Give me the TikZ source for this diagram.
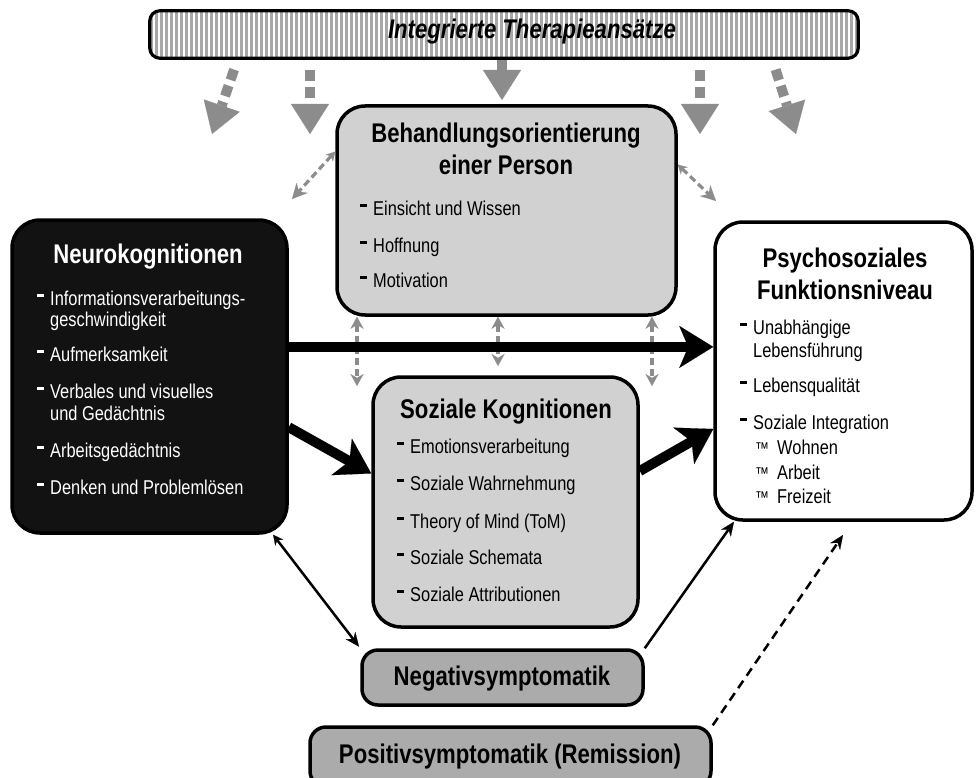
\documentclass[tikz,border=0pt]{standalone}
\usepackage{fontspec}
\setmainfont{Liberation Sans}[FakeStretch=0.82]
\usetikzlibrary{arrows.meta, positioning}
\definecolor{lightbox}{gray}{0.82}
\definecolor{symbox}{gray}{0.67}
\definecolor{nkblack}{gray}{0.07}
\definecolor{arrowgray}{gray}{0.55}
\definecolor{stripe}{gray}{0.66}
\newcommand{\itemdash}{\makebox[13pt][l]{\raisebox{8.5pt}{\rule{6.5pt}{2.4pt}}}}
\newcommand{\tmsign}{\makebox[22pt][l]{\fontsize{17}{17}\selectfont ™}}
\tikzset{x=1pt, y=-1pt,
  box/.style={draw, line width=3.5pt, rounded corners=28pt, fill=lightbox, inner sep=0pt},
  darkbox/.style={box, fill=nkblack},
  whitebox/.style={box, fill=white},
  sympbox/.style={box, fill=symbox, rounded corners=16pt},
  title/.style={font=\fontsize{27}{30}\selectfont\bfseries, inner sep=0pt, anchor=base},
  entry/.style={font=\fontsize{20}{22}\selectfont, inner sep=0pt, anchor=base west},
  topflow/.style={draw=arrowgray, line width=10pt, dash pattern=on 11pt off 6pt, shorten <=12pt, -{Triangle[length=30pt,width=38pt,line width=0.1pt]}},
  sidelink/.style={draw=arrowgray, line width=3.2pt, dash pattern=on 7pt off 4pt, {Stealth[length=9pt,width=10pt,line width=0.1pt]}-{Stealth[length=15pt,width=15pt,line width=0.1pt]}},
  uplink/.style={draw=arrowgray, line width=3.2pt, dash pattern=on 7pt off 4pt, {Stealth[length=12pt,width=13pt,line width=0.1pt]}-{Stealth[length=12pt,width=13pt,line width=0.1pt]}},
  mainflow/.style={line width=10pt, -{Stealth[length=34pt,width=42pt,inset=9pt,line width=0.1pt]}},
  thinflow/.style={line width=2.5pt, -{Stealth[length=14pt,width=12pt,line width=0.1pt]}},
}

\begin{document}
\begin{tikzpicture}
\useasboundingbox (0,0) rectangle (976,778);

% top bar
\node[draw=none, minimum width=708pt, minimum height=47pt, inner sep=0pt] (therapie) at (504,34.5) {};
\begin{scope}
  \clip[rounded corners=10pt] (therapie.south west) rectangle (therapie.north east);
  \fill[white] (therapie.south west) rectangle (therapie.north east);
  \foreach \x in {150,155,...,860}
    \fill[stripe] (\x,0) rectangle (\x+3,80);
\end{scope}
\draw[line width=3.2pt, rounded corners=10pt] (therapie.south west) rectangle (therapie.north east);
\node[font=\fontsize{27}{30}\selectfont\bfseries\itshape, inner sep=0pt, anchor=base] (therapietext) at (532,39) {Integrierte Therapieans\"atze};

% boxes
\node[box, minimum width=339pt, minimum height=209pt] (behand) at (506.5,210.5) {};
\node[darkbox, minimum width=275pt, minimum height=313pt] (neuro) at (149.5,376.5) {};
\node[whitebox, minimum width=257pt, minimum height=298pt] (psycho) at (843.5,371) {};
\node[box, minimum width=265pt, minimum height=250pt] (sozial) at (505.5,502) {};
\node[sympbox, minimum width=281pt, minimum height=55pt] (negativ) at (502.5,677.5) {};
\node[sympbox, minimum width=401pt, minimum height=60pt] (positiv) at (510.5,757) {};

% free ends
\coordinate (t1) at (212,134);
\coordinate (t2) at (310,134);
\coordinate (t3) at (502,100);
\coordinate (t4) at (700,134);
\coordinate (t5) at (796,134);
\coordinate (lb1) at (292,199);
\coordinate (lb2) at (716,201);
\coordinate (lv1) at (357,386);
\coordinate (lv2) at (498,366);
\coordinate (lv3) at (652,386);
\coordinate (remtip) at (843,535);

% arrows from the top bar
\draw[topflow] ([xshift=-266pt]therapie.south) -- (t1);
\draw[topflow] ([xshift=-194pt]therapie.south) -- (t2);
\draw[topflow, solid, shorten <=2pt] ([xshift=-2pt]therapie.south) -- (t3);
\draw[topflow] ([xshift=196pt]therapie.south) -- (t4);
\draw[topflow] ([xshift=268pt]therapie.south) -- (t5);

% grey links
\draw[sidelink] (behand.161.9) -- (lb1);
\draw[sidelink] (behand.15.7) -- (lb2);
\draw[uplink] ([xshift=-149.5pt]behand.south) -- (lv1);
\draw[uplink] ([xshift=-8.5pt]behand.south) -- (lv2);
\draw[uplink] ([xshift=145.5pt]behand.south) -- (lv3);

% main flows
\draw[mainflow] (neuro.12.5) -- (neuro.12.5 -| psycho.west);
\draw[mainflow] (neuro.-20.9) -- (sozial.168.5);
\draw[mainflow] (sozial.13.6) -- (psycho.204.7);
\draw[thinflow, {Stealth[length=10pt,width=10pt,line width=0.1pt]}-{Stealth[length=14pt,width=12pt,line width=0.1pt]}, shorten >=2pt] (neuro.-52) -- (negativ.north west);
\draw[thinflow] (negativ.north east) -- (psycho.234.7);
\draw[thinflow, dash pattern=on 9pt off 6pt] (positiv.north east) -- (remtip);

% texts
\node[title] (behandtitle1) at (506,143) {Behandlungsorientierung};
\node[title] (behandtitle2) at (506,175) {einer Person};
\foreach \t/\y [count=\i] in {Einsicht und Wissen/215, Hoffnung/252, Motivation/287}
  \node[entry] (be-\i) at (360,\y) {\itemdash\t};

\node[title, text=white] (neurotitle) at (148,263) {Neurokognitionen};
\foreach \x/\y/\t [count=\i] in {37/305/{\itemdash Informationsverarbeitungs-}, 50/326/geschwindigkeit,
    37/361/{\itemdash Aufmerksamkeit}, 37/398/{\itemdash Verbales und visuelles}, 50/420/und Ged\"achtnis,
    37/457/{\itemdash Arbeitsged\"achtnis}, 37/494/{\itemdash Denken und Probleml\"osen}}
  \node[entry, text=white] (nk-\i) at (\x,\y) {\t};

\node[title] (sozialtitle) at (506,418) {Soziale Kognitionen};
\foreach \t/\y [count=\i] in {Emotionsverarbeitung/453, Soziale Wahrnehmung/490, Theory of Mind (ToM)/528,
    Soziale Schemata/564, Soziale Attributionen/601}
  \node[entry] (sk-\i) at (397,\y) {\itemdash\t};

\node[title] (psychotitle1) at (845,267) {Psychosoziales};
\node[title] (psychotitle2) at (845,299) {Funktionsniveau};
\foreach \x/\y/\t [count=\i] in {740/334/{\itemdash Unabh\"angige}, 753/357/Lebensf\"uhrung,
    740/392/{\itemdash Lebensqualit\"at}, 740/429/{\itemdash Soziale Integration},
    755/454/{\tmsign Wohnen}, 755/479/{\tmsign Arbeit}, 755/503/{\tmsign Freizeit}}
  \node[entry] (pf-\i) at (\x,\y) {\t};

\node[title] (negativtext) at (502,685) {Negativsymptomatik};
\node[title] (positivtext) at (510,763) {Positivsymptomatik (Remission)};
\end{tikzpicture}
\end{document}
